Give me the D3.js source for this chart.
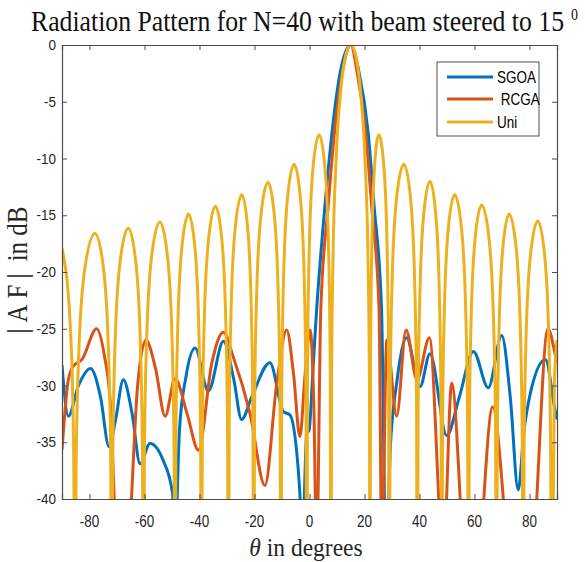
<!DOCTYPE html>
<html><head><meta charset="utf-8">
<script src="https://cdn.jsdelivr.net/npm/d3@7"></script>
<style>body{margin:0;background:#fff} svg{display:block}</style>
</head><body><svg id="c" width="585" height="562"></svg>
<script>
// ---------- data (theta in degrees, |AF| in dB) ----------
const xTickValues = [-80,-60,-40,-20,0,20,40,60,80];
const yTickValues = [0,-5,-10,-15,-20,-25,-30,-35,-40];
const seriesNames = ["SGOA", "RCGA", "Uni"];
const seriesColors = ["#0072BD", "#D95319", "#EDB120"];

const sgoa = [
 [-90,-28.2],[-87.7,-32.7],[-84,-30],[-79.6,-28.5],[-76,-31],[-72.9,-35.4],[-70.5,-33],[-67.7,-29.5],
 [-64.5,-32.5],[-61.6,-36.9],[-58.0,-35.1],[-53.2,-36.6],[-49.8,-39.5],[-48.9,-44],[-47.3,-34],
 [-44.9,-29.2],[-41.6,-26.7],[-36.8,-30.5],[-31.3,-26.1],[-27.5,-29.5],[-24.7,-33.0],[-21.0,-31.0],
 [-14.4,-28.0],[-9.5,-32.3],[-7.1,-32.6],[-3.5,-39.5],[-2.7,-45],[-1.0,-34.2],[-0.2,-34.0],[1.4,-28],
 [2.6,-23.3],[5.6,-14.2],[8.1,-7.9],[11.1,-2.5],[15,0],[18.1,-2.5],[21.4,-7.9],[23.5,-14.2],[26.2,-23.3],
 [27.8,-45],[29.5,-35],[31.7,-29.8],[35.3,-25.8],[40.2,-30.1],[43.8,-27.2],[49.9,-34.4],[54.5,-31],
 [59.6,-27.0],[65.0,-30.2],[69.9,-25.6],[73,-31],[75.9,-39.2],[78,-34],[80.2,-30.8],[85.8,-27.7],
 [89.3,-32.2],[90,-33]
];

const rcga = [
 [-90,-35.7],[-87.7,-29.5],[-85.9,-28.3],[-82.7,-27.7],[-77.4,-25.0],[-74.5,-27.5],[-72.5,-31.3],
 [-70.1,-45],[-67.9,-50],[-65.9,-45],[-62.5,-30],[-59.5,-26.0],[-56,-28.5],[-52.5,-32.7],[-48.9,-29.4],
 [-44.5,-32.5],[-40.4,-35.7],[-35.5,-28],[-31.3,-25.3],[-27.7,-27.5],[-21.6,-32.5],[-16.2,-38.8],
 [-12,-30],[-8.3,-25.1],[-5.8,-29],[-3.5,-34.5],[-1.6,-29],[0.2,-25.1],[1.6,-32],[2.6,-45],
 [4.1,-23.3],[6.8,-14.2],[9.0,-7.9],[11.9,-2.5],[15,0],[17.4,-2.5],[20.5,-7.9],[22.6,-14.2],[25.3,-23.3],
 [26.3,-45],[28.1,-26.0],[31.7,-32.7],[35.1,-25.1],[39.1,-29.5],[43.6,-25.8],[48.7,-45],[51.7,-29.8],
 [56.0,-45],[59.1,-55],[62.0,-45],[66.6,-31.9],[72.3,-45],[77,-55],[81.4,-45],[86.7,-25.0],
 [89.3,-27.2],[90,-28]
];

const uni = [
 [-90,-17.9],[-89,-19.2],[-88,-21.1],[-87,-24.7],[-86.2,-30],[-85.7,-37.5],[-85.3,-60],
 [-84.86,-37.1],[-83.84,-26.8],[-81.65,-19.6],[-78.0,-16.6],[-74.95,-19.6],[-73.12,-26.8],[-72.27,-37.1],[-71.9,-60],
 [-71.54,-36.65],[-70.7,-26.35],[-68.9,-19.15],[-65.9,-16.15],[-63.15,-19.15],[-61.5,-26.35],[-60.73,-36.65],[-60.4,-60],
 [-60.04,-36.1],[-59.2,-25.8],[-57.4,-18.6],[-54.4,-15.6],[-51.65,-18.6],[-50.0,-25.8],[-49.23,-36.1],[-48.9,-60],
 [-48.61,-35.4],[-47.92,-25.1],[-46.45,-17.9],[-44.0,-14.9],[-41.65,-17.9],[-40.24,-25.1],[-39.58,-35.4],[-39.3,-60],
 [-38.99,-34.7],[-38.28,-24.4],[-36.75,-17.2],[-34.2,-14.2],[-31.85,-17.2],[-30.44,-24.4],[-29.78,-34.7],[-29.5,-60],
 [-29.21,-33.7],[-28.52,-23.4],[-27.05,-16.2],[-24.6,-13.2],[-22.45,-16.2],[-21.16,-23.4],[-20.56,-33.7],[-20.3,-60],
 [-19.99,-32.6],[-19.26,-22.3],[-17.7,-15.1],[-15.1,-12.1],[-12.75,-15.1],[-11.34,-22.3],[-10.68,-32.6],[-10.4,-60],
 [-10.11,-31.0],[-9.44,-20.7],[-8.0,-13.5],[-5.6,-10.5],[-3.3,-13.5],[-1.92,-20.7],[-1.28,-31.0],[-1.0,-60],
 [-0.73,-28.4],[-0.1,-18.1],[1.25,-10.9],[3.5,-7.9],[5.65,-10.9],[6.94,-18.1],[7.54,-28.4],[7.8,-60],
 [8.02,-30],[8.52,-19.2],[9.6,-10.5],[11.4,-3.9],[13.2,-0.9],[15,0],[16.75,-0.9],[18.5,-3.9],[20.25,-10.5],[21.3,-19.2],[21.8,-30],[22,-60],
 [22.19,-28.4],[22.64,-18.1],[23.6,-10.9],[25.2,-7.9],[27.1,-10.9],[28.24,-18.1],[28.77,-28.4],[29.0,-60],
 [29.32,-31.0],[30.06,-20.7],[31.65,-13.5],[34.3,-10.5],[36.75,-13.5],[38.22,-20.7],[38.91,-31.0],[39.2,-60],
 [39.48,-32.5],[40.12,-22.2],[41.5,-15.0],[43.8,-12.0],[45.95,-15.0],[47.24,-22.2],[47.84,-32.5],[48.1,-60],
 [48.38,-33.7],[49.04,-23.4],[50.45,-16.2],[52.8,-13.2],[55.3,-16.2],[56.8,-23.4],[57.5,-33.7],[57.8,-60],
 [58.09,-34.6],[58.76,-24.3],[60.2,-17.1],[62.6,-14.1],[65.3,-17.1],[66.92,-24.3],[67.68,-34.6],[68.0,-60],
 [68.28,-35.4],[68.92,-25.1],[70.3,-17.9],[72.6,-14.9],[75.15,-17.9],[76.68,-25.1],[77.39,-35.4],[77.7,-60],
 [78.02,-36.0],[78.76,-25.7],[80.35,-18.5],[83.0,-15.5],[85.5,-18.5],[87.0,-25.7],[87.7,-36.0],[88.0,-60],
 [89,-30],[90,-26]
];
const seriesData = [sgoa, rcga, uni];

// ---------- layout ----------
const svg = d3.select("#c");
const L = 62, R = 557, T = 45, B = 499;
const x = d3.scaleLinear().domain([-90, 90]).range([L, R]);
const y = d3.scaleLinear().domain([-40, 0]).range([B, T]);
const axisColor = "#4d4d4d";
const SY = 1.18; // vertical glyph stretch seen in the reference

function stretchedText(g, px, py, str, opts) {
  const t = g.append("g").attr("transform", `translate(${px},${py}) scale(1,${opts.sy || SY})`)
    .append("text")
    .attr("x", 0).attr("y", 0)
    .attr("font-family", opts.family || "'Liberation Sans', Arial, sans-serif")
    .attr("font-size", opts.size)
    .attr("text-anchor", opts.anchor || "start")
    .attr("fill", opts.color || "#262626")
    .text(str);
  if (opts.len) t.attr("textLength", opts.len).attr("lengthAdjust", "spacingAndGlyphs");
  return t;
}

// clip
svg.append("defs").append("clipPath").attr("id", "plotclip")
  .append("rect").attr("x", L).attr("y", T).attr("width", R - L).attr("height", B - T);

// lines
const line = d3.line().x(d => x(d[0])).y(d => y(d[1])).curve(d3.curveMonotoneX);
const plotG = svg.append("g").attr("clip-path", "url(#plotclip)");
seriesData.forEach((s, i) => {
  plotG.append("path").datum(s).attr("d", line)
    .attr("fill", "none").attr("stroke", seriesColors[i])
    .attr("stroke-width", 3).attr("stroke-linejoin", "round");
});

// axes (MATLAB style box, ticks inward)
const tickLen = 5;
const gx = svg.append("g").attr("transform", `translate(0,${B})`)
  .call(d3.axisBottom(x).tickValues(xTickValues).tickSize(-tickLen).tickFormat(""));
const gxt = svg.append("g").attr("transform", `translate(0,${T})`)
  .call(d3.axisTop(x).tickValues(xTickValues).tickSize(-tickLen).tickFormat(""));
const gy = svg.append("g").attr("transform", `translate(${L},0)`)
  .call(d3.axisLeft(y).tickValues(yTickValues).tickSize(-tickLen).tickFormat(""));
const gyr = svg.append("g").attr("transform", `translate(${R},0)`)
  .call(d3.axisRight(y).tickValues(yTickValues).tickSize(-tickLen).tickFormat(""));
[gx, gxt, gy, gyr].forEach(g => {
  g.select(".domain").attr("stroke", axisColor).attr("stroke-width", 1.2);
  g.selectAll(".tick line").attr("stroke", axisColor).attr("stroke-width", 1);
});

// tick labels
const labG = svg.append("g");
xTickValues.forEach(v => stretchedText(labG, x(v), 527, String(v), {size: 13.5, anchor: "middle"}));
yTickValues.forEach(v => stretchedText(labG, 56, y(v) + 5.2, String(v), {size: 13.5, anchor: "end", sy: 1.08}));

// title
const serif = "'Liberation Serif', 'Times New Roman', serif";
stretchedText(svg, 31, 30.8, "Radiation Pattern for N=40 with beam steered to 15", {size: 24, family: serif, len: 533, color: "#111", sy: 1.2});
stretchedText(svg, 571, 20, "0", {size: 14, family: serif, color: "#111"});

// axis titles
const xl = svg.append("g").attr("transform", `translate(306,556) scale(1,1.1)`).append("text")
  .attr("text-anchor", "middle").attr("font-family", serif).attr("font-size", 23.5).attr("fill", "#262626");
xl.append("tspan").attr("font-style", "italic").text("θ");
xl.append("tspan").text(" in degrees");

const yl = svg.append("g").attr("transform", `translate(27,270) rotate(-90) scale(1,1.16)`).append("text")
  .attr("text-anchor", "middle").attr("font-family", serif).attr("font-size", 25).attr("fill", "#262626");
yl.append("tspan").attr("letter-spacing", 6).text("|AF|");
yl.append("tspan").text(" in dB");

// legend
const lg = svg.append("g");
lg.append("rect").attr("x", 437).attr("y", 62).attr("width", 102).attr("height", 74)
  .attr("fill", "#fff").attr("stroke", "#262626").attr("stroke-width", 0.8);
const legendY = [77, 99, 122];
const legendLabels = ["SGOA", " RCGA", "Uni"];
seriesNames.forEach((n, i) => {
  lg.append("line").attr("x1", 447).attr("x2", 493).attr("y1", legendY[i]).attr("y2", legendY[i])
    .attr("stroke", seriesColors[i]).attr("stroke-width", 3);
  stretchedText(lg, 497, legendY[i] + 5.5, legendLabels[i], {size: 13.5, color: "#000"}).style("white-space", "pre");
});
</script></body></html>
